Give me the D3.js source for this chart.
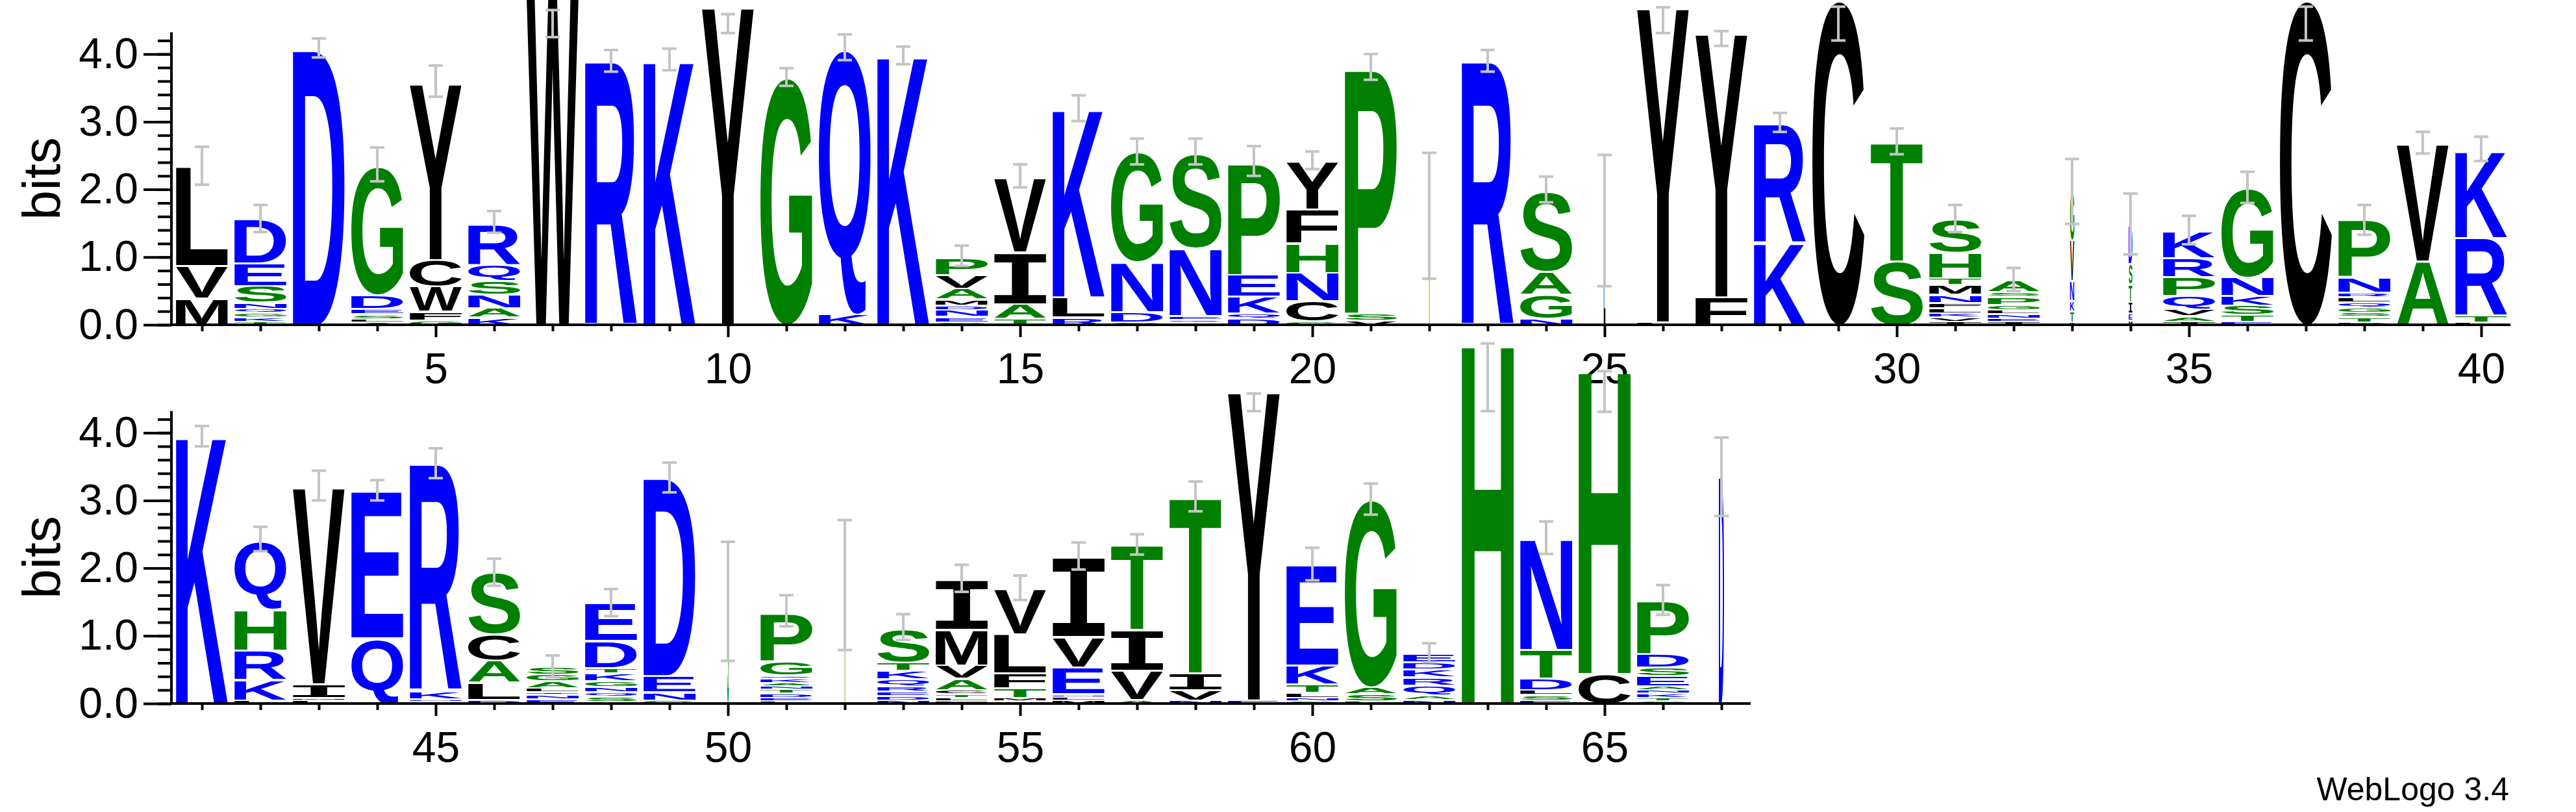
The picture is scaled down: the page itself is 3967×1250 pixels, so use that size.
<!DOCTYPE html>
<html>
<head>
<meta charset="utf-8">
<script src="https://cdn.jsdelivr.net/npm/d3@7"></script>
<style>
  body { margin: 0; background: #fff; }
  svg { display: block; }
  text { font-family: "Liberation Sans", Arial, sans-serif; }
</style>
</head>
<body>
<div id="logo"></div>
<script>
// letters per position, bottom to top, [residue, bits]
const stacks = [
  [["M",.40],["V",.48],["L",1.47]],
  [["T",.06],["K",.06],["G",.07],["Q",.06],["N",.09],["S",.25],["E",.33],["D",.65]],
  [["D",4.07]],
  [["A",.05],["L",.05],["S",.07],["E",.08],["D",.2],["G",1.9]],
  [["G",.08],["F",.13],["W",.37],["C",.39],["Y",2.6]],
  [["K",.12],["A",.14],["N",.2],["S",.2],["Q",.24],["R",.6]],
  [["W",4.85]],
  [["R",3.9]],
  [["K",3.92]],
  [["Y",4.7]],
  [["G",3.66]],
  [["K",.17],["Q",3.92]],
  [["K",3.99]],
  [["S",.05],["E",.08],["N",.1],["D",.07],["M",.09],["A",.16],["V",.2],["P",.25]],
  [["T",.1],["A",.22],["I",.76],["V",1.1]],
  [["R",.12],["L",.3],["K",2.78]],
  [["S",.05],["D",.15],["N",.74],["G",1.62]],
  [["L",.04],["Q",.05],["E",.05],["N",1.0],["S",1.4]],
  [["D",.1],["Q",.08],["K",.25],["E",.32],["P",1.65]],
  [["G",.06],["C",.3],["N",.42],["H",.44],["F",.5],["Y",.7]],
  [["V",.08],["S",.1],["P",3.62]],
  [["T",1.61]],
  [["R",3.9]],
  [["N",.1],["G",.36],["A",.34],["S",1.18]],
  [["L",1.54]],
  [["L",.05],["Y",4.64]],
  [["F",.42],["Y",3.89]],
  [["K",1.22],["R",1.76]],
  [["C",4.8]],
  [["S",.95],["T",1.76]],
  [["I",.06],["V",.06],["K",.06],["L",.08],["F",.08],["N",.12],["M",.14],["T",.1],["H",.38],["S",.49]],
  [["I",.06],["E",.05],["N",.06],["L",.06],["G",.08],["P",.12],["S",.07],["A",.18]],
  [["R",.05],["T",.16],["K",.15],["N",.3],["V",.6],["G",.73]],
  [["M",.08],["E",.1],["I",.17],["T",.26],["S",.3],["D",.57]],
  [["I",.06],["A",.08],["V",.1],["Q",.2],["P",.28],["R",.28],["K",.4]],
  [["E",.06],["T",.1],["S",.14],["K",.14],["N",.27],["G",1.32]],
  [["C",4.8]],
  [["D",.05],["T",.08],["S",.06],["G",.08],["Q",.08],["L",.07],["R",.07],["N",.23],["P",.84]],
  [["A",.95],["V",1.73]],
  [["L",.05],["T",.1],["R",1.15],["K",1.28]],
  [["K",3.96]],
  [["L",.06],["K",.3],["R",.44],["H",.6],["Q",1.0]],
  [["L",.06],["M",.04],["I",.2],["V",2.9]],
  [["Q",.98],["E",2.17]],
  [["G",.04],["N",.04],["K",.12],["R",3.35]],
  [["D",.07],["L",.25],["A",.33],["C",.38],["S",.91]],
  [["E",.08],["N",.06],["I",.04],["L",.06],["A",.1],["G",.1],["S",.11]],
  [["A",.04],["S",.08],["Q",.06],["N",.08],["G",.09],["K",.11],["T",.08],["D",.4],["E",.55]],
  [["G",.06],["N",.12],["E",.24],["D",2.92]],
  [["S",1.51]],
  [["L",.05],["E",.05],["D",.06],["T",.06],["N",.05],["A",.05],["K",.06],["Q",.05],["G",.2],["P",.71]],
  [["T",1.73]],
  [["N",.06],["D",.06],["E",.07],["R",.08],["Q",.1],["K",.13],["T",.12],["S",.5]],
  [["F",.05],["L",.05],["T",.05],["C",.06],["A",.17],["V",.2],["M",.52],["I",.74]],
  [["I",.05],["M",.05],["T",.14],["F",.22],["L",.58],["V",.67]],
  [["M",.06],["L",.05],["N",.04],["E",.4],["V",.45],["I",1.18]],
  [["A",.07],["V",.43],["I",.6],["T",1.25]],
  [["N",.06],["V",.15],["I",.25],["T",2.6]],
  [["E",.06],["Y",4.55]],
  [["S",.05],["N",.05],["L",.07],["T",.13],["K",.28],["E",1.48]],
  [["L",.05],["S",.1],["A",.1],["G",2.77]],
  [["N",.07],["A",.07],["Q",.14],["R",.12],["K",.12],["D",.1],["E",.13]],
  [["H",5.33]],
  [["E",.06],["S",.08],["L",.07],["D",.17],["T",.43],["N",1.64]],
  [["C",.45],["H",4.49]],
  [["G",.05],["T",.05],["K",.06],["N",.05],["A",.06],["E",.15],["S",.13],["D",.2],["P",.78]],
  [["D",3.36]]
];

// stack width as fraction (gapped columns are narrow)
const narrow = { 22: .03, 25: .03, 33: .08, 34: .07, 50: .03, 52: .03, 67: .1 };

const errCenter = [2.35,1.57,4.09,2.37,3.6,1.52,4.45,3.9,3.92,4.45,3.66,4.1,3.98,1.02,2.2,3.2,2.56,2.56,2.42,2.43,
  3.81,1.61,3.9,2.0,1.54,4.5,4.23,2.99,4.45,2.71,1.57,0.67,1.97,1.49,1.4,2.03,4.45,1.55,2.69,2.6,
  3.95,2.43,3.22,3.15,3.55,1.94,.55,1.49,3.34,1.51,1.37,1.75,1.13,1.85,1.71,2.18,2.35,3.06,4.45,2.06,
  3.02,.75,4.82,2.45,4.61,1.53,3.35];
const errHalf = [.28,.2,.14,.25,.23,.16,.2,.16,.16,.14,.13,.19,.13,.15,.17,.19,.19,.19,.22,.13,
  .19,.93,.16,.19,.97,.19,.11,.14,.25,.19,.2,.17,.48,.45,.21,.23,.25,.22,.16,.18,
  .15,.18,.22,.15,.22,.2,.16,.2,.22,.88,.23,.96,.19,.2,.18,.2,.15,.22,.13,.24,
  .23,.14,.5,.24,.3,.22,.58];

const rows = [
  { first: 1, last: 40, base: 500 },
  { first: 41, last: 67, base: 1083 }
];
const yTicks = [0, 1, 2, 3, 4];

const colorOf = c => "RKDENQ".includes(c) ? "#0000ff" : "SGHTAP".includes(c) ? "#008000" : "#000000";

const width = 3967, height = 1250;
const left = 266, step = 90, bitPx = 104.2, maxBits = 4.32;

const svg = d3.select("#logo").append("svg")
  .attr("width", width).attr("height", height)
  .style("background", "#fff");

// ink metrics for stretching glyphs
const ctx = document.createElement("canvas").getContext("2d");
const fontFor = c => c === "I" ? "bold 200px 'Liberation Mono'" : "bold 200px 'Liberation Sans'";
const metrics = {};
function ink(c) {
  if (!metrics[c]) {
    ctx.font = fontFor(c);
    const m = ctx.measureText(c);
    metrics[c] = { l: m.actualBoundingBoxLeft, r: m.actualBoundingBoxRight,
                   a: m.actualBoundingBoxAscent, d: m.actualBoundingBoxDescent };
  }
  return metrics[c];
}

rows.forEach(row => {
  const n = row.last - row.first + 1;
  const x = d3.scaleLinear().domain([row.first - 0.5, row.last + 0.5]).range([left, left + n * step]);
  const y = d3.scaleLinear().domain([0, maxBits]).range([row.base, row.base - maxBits * bitPx]);
  const g = svg.append("g");

  // letters
  for (let p = row.first; p <= row.last; p++) {
    const w = 80 * (narrow[p] || 1);
    const x0 = x(p) - w / 2;
    let cum = 0;
    stacks[p - 1].forEach(([c, b]) => {
      const yb = y(cum), yt = y(cum + b);
      cum += b;
      const h = Math.max(yb - yt - 3, 0.8);
      const m = ink(c);
      const sx = w / (m.l + m.r), sy = h / (m.a + m.d);
      g.append("text")
        .text(c)
        .attr("fill", colorOf(c))
        .style("font", fontFor(c))
        .attr("transform", `translate(${x0 + m.l * sx},${yb - h + m.a * sy}) scale(${sx},${sy})`);
    });
  }

  // error bars
  const eb = g.append("g").attr("stroke", "#c4c4c4").attr("stroke-width", 4);
  for (let p = row.first; p <= row.last; p++) {
    const c = errCenter[p - 1], hf = errHalf[p - 1], cx = x(p);
    eb.append("line").attr("x1", cx).attr("x2", cx).attr("y1", y(c - hf)).attr("y2", y(c + hf));
    [c - hf, c + hf].forEach(v => eb.append("line")
      .attr("x1", cx - 11).attr("x2", cx + 11).attr("y1", y(v)).attr("y2", y(v)));
  }

  // y axis
  const yAx = svg.append("g").attr("transform", `translate(${left - 2},0)`);
  yAx.call(d3.axisLeft(y).tickValues(d3.range(0, 4.3, 0.2)).tickSize(21).tickSizeOuter(0).tickFormat(""));
  yAx.append("g").call(d3.axisLeft(y).tickValues(yTicks).tickSize(43).tickSizeOuter(0)
      .tickPadding(8).tickFormat(d3.format(".1f")));
  yAx.selectAll(".domain").remove();
  yAx.append("line").attr("x1", 0).attr("x2", 0).attr("y1", y(0) + 2).attr("y2", y(maxBits))
    .attr("stroke", "#000").attr("stroke-width", 4);

  // x axis
  const xAx = svg.append("g").attr("transform", `translate(0,${row.base})`);
  const all = d3.range(row.first, row.last + 1);
  xAx.call(d3.axisBottom(x).tickValues(all.filter(v => v % 5)).tickSize(10).tickSizeOuter(0).tickFormat(""));
  xAx.append("g").call(d3.axisBottom(x).tickValues(all.filter(v => v % 5 === 0)).tickSize(19)
      .tickSizeOuter(0).tickPadding(24));
  xAx.selectAll(".domain").remove();
  xAx.append("line").attr("x1", left).attr("x2", left + n * step).attr("stroke", "#000").attr("stroke-width", 4);

  svg.selectAll(".tick line").attr("stroke-width", 4);
  svg.selectAll(".tick text").attr("font-size", 66).attr("font-family", "Liberation Sans, Arial, sans-serif");

  svg.append("text")
    .attr("transform", `translate(92,${row.base - 225}) rotate(-90)`)
    .attr("text-anchor", "middle")
    .attr("font-size", 82)
    .text("bits");
});

svg.append("text")
  .attr("x", 3864).attr("y", 1232)
  .attr("text-anchor", "end")
  .attr("font-size", 50)
  .text("WebLogo 3.4");
</script>
</body>
</html>
